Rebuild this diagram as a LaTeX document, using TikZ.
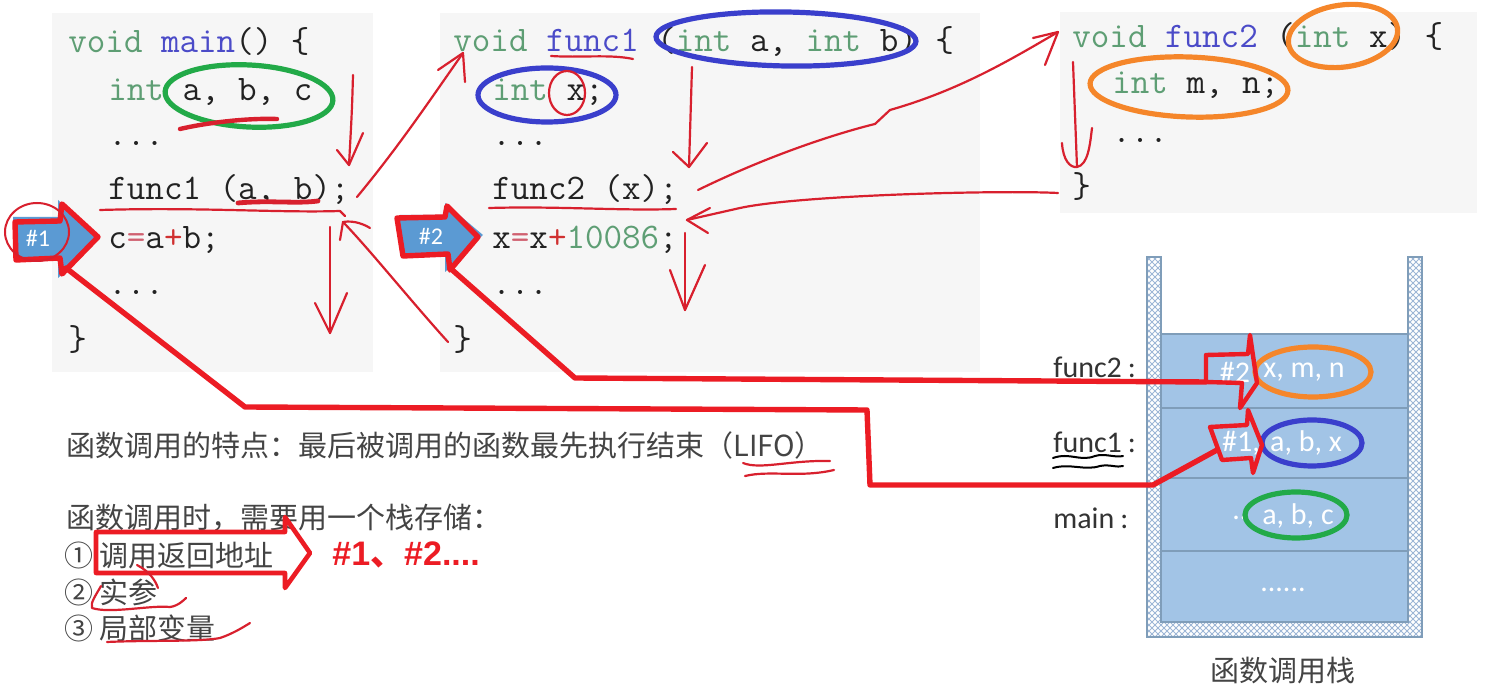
\documentclass[tikz,border=0pt]{standalone}
\usepackage{fontspec}
\setmainfont{Liberation Sans}
\newfontfamily\codefont{Latin Modern Mono}
\newfontfamily\cjk{Noto Sans CJK SC}
\newfontfamily\calfont{Carlito}
\usetikzlibrary{patterns}
\definecolor{kw}{HTML}{5E9E74}
\definecolor{fn}{HTML}{4B4BC8}
\definecolor{tx}{HTML}{222222}
\definecolor{eqc}{HTML}{D06070}
\definecolor{plc}{HTML}{D03030}
\definecolor{panel}{HTML}{F6F6F6}
\definecolor{penred}{HTML}{D8202E}
\definecolor{bigred}{HTML}{EC1C24}
\definecolor{grn}{HTML}{22AA48}
\definecolor{blu}{HTML}{3A3FCC}
\definecolor{org}{HTML}{F5862A}
\definecolor{arrowblue}{HTML}{5B9AD3}
\definecolor{stackfill}{HTML}{A2C4E6}
\definecolor{stackline}{HTML}{7F9DB9}
\definecolor{hatchc}{HTML}{9DB6D6}
\definecolor{labelc}{HTML}{333333}
\definecolor{cjkc}{HTML}{444444}
\begin{document}
\begin{tikzpicture}[x=0.5pt,y=-0.5pt,
  code/.style={anchor=west,inner sep=0pt,text=tx,font=\codefont\fontsize{18}{21}\selectfont},
  pen/.style={draw=penred,line width=1.1pt,line cap=round,line join=round},
  bigline/.style={draw=bigred,line width=2.7pt,line join=round,line cap=round},
  ring/.style={line width=2.6pt},
  stacktxt/.style={text=white,inner sep=0pt,font=\calfont\fontsize{15}{18}\selectfont},
  lbl/.style={text=labelc,anchor=west,inner sep=0pt,font=\calfont\fontsize{15}{18}\selectfont},
  cjktxt/.style={anchor=west,inner sep=0pt,text=cjkc,font=\cjk\fontsize{14.5}{17}\selectfont},
  tag/.style={text=white,inner sep=0pt,font=\calfont\fontsize{12}{14}\selectfont}]
\useasboundingbox (0,0) rectangle (1512,694);
\fill[white] (0,0) rectangle (1512,694);
% panels
\fill[panel] (52,13) rectangle (373,372);
\fill[panel] (440,13) rectangle (980,372);
\fill[panel] (1060,12) rectangle (1477,213);
% main code
\node[code] (m1) at (68,42) {{\color{kw}void} {\color{fn}main}() \{};
\node[code] (m2) at (108,92) {{\color{kw}int} a, b, c};
\node[code] (m3) at (108,143) {...};
\node[code] (m4) at (108,190) {func1 (a, b);};
\node[code] (m5) at (108,240) {c{\color{eqc}=}a{\color{plc}+}b;};
\node[code] (m6) at (108,292) {...};
\node[code] (m7) at (68,340) {\}};
% func1 code
\node[code] (f1) at (453,42) {{\color{kw}void} {\color{fn}func1} ({\color{kw}int} a, {\color{kw}int} b) \{};
\node[code] (f2) at (492,92) {{\color{kw}int} x;};
\node[code] (f3) at (492,143) {...};
\node[code] (f4) at (492,190) {func2 (x);};
\node[code] (f5) at (492,240) {x{\color{eqc}=}x{\color{plc}+}{\color{kw}10086};};
\node[code] (f6) at (492,292) {...};
\node[code] (f7) at (453,340) {\}};
% func2 code
\node[code] (g1) at (1072,37) {{\color{kw}void} {\color{fn}func2} ({\color{kw}int} x) \{};
\node[code] (g2) at (1112,85) {{\color{kw}int} m, n;};
\node[code] (g3) at (1112,140) {...};
\node[code] (g4) at (1072,187) {\}};

% blue block arrows #1 #2
\fill[arrowblue] (13,217) -- (58,217) -- (58,200) -- (100,237) -- (58,278) -- (58,257) -- (13,257) -- cycle;
\draw[bigline] (15,222) -- (60,221) -- (62,204) -- (98,237) -- (62,274) -- (60,258) -- (16,260) -- cycle;
\node[tag] (t1) at (38,238) {\#1};
\draw[penred,line width=1pt] (37,232) ellipse [x radius=16pt, y radius=14.5pt];
\fill[arrowblue] (400,215) -- (445,215) -- (445,203) -- (483,235) -- (445,272) -- (445,255) -- (400,255) -- cycle;
\draw[bigline] (397,218) -- (445,217) -- (447,206) -- (478,237) -- (450,270) -- (448,254) -- (403,256) -- cycle;
\node[tag] (t2) at (431,236) {\#2};

% stack
\fill[stackfill] (1161,334) rectangle (1408,622);
\foreach \yy in {334,408,478,551,622} \draw[stackline,line width=0.8pt] (1161,\yy) -- (1408,\yy);
\foreach \xa/\ya/\xb/\yb in {1147/257/1161/637, 1408/257/1422/637, 1161/622/1408/637} {
  \fill[white] (\xa,\ya) rectangle (\xb,\yb);
  \fill[pattern=north east lines,pattern color=hatchc] (\xa,\ya) rectangle (\xb,\yb);
  \fill[pattern=north west lines,pattern color=hatchc] (\xa,\ya) rectangle (\xb,\yb);
}
\draw[stackline,line width=0.8pt] (1147,257) -- (1147,637) -- (1422,637) -- (1422,257) -- (1408,257) -- (1408,622) -- (1161,622) -- (1161,257) -- cycle;
\node[stacktxt] (s2a) at (1235,372) {\#2};
\node[stacktxt] (s2b) at (1304,372) {x, m, n};
\node[stacktxt] (s1a) at (1241,443) {\#1,};
\node[stacktxt] (s1b) at (1306,443) {a, b, x};
\node[stacktxt] (s0a) at (1240,518) {..};
\node[stacktxt] (s0b) at (1298,516) {a, b, c};
\node[stacktxt] (s00) at (1283,590) {......};
\node[lbl] (l2) at (1053,367) {func2\hspace{3pt}:};
\node[lbl] (l1) at (1053,442) {func1\hspace{3pt}:};
\node[lbl] (l0) at (1053,518) {main\hspace{3pt}:};
\node[text=cjkc,inner sep=0pt,font=\cjk\fontsize{14.5}{17}\selectfont] (cap) at (1283,671) {函数调用栈};
\draw[black,line width=1pt,line cap=round] (1053,458) .. controls (1070,452) and (1080,462) .. (1095,456) .. controls (1105,453) and (1115,458) .. (1123,456);
\draw[black,line width=1pt,line cap=round] (1053,468) .. controls (1070,463) and (1085,471) .. (1100,466) .. controls (1110,464) and (1117,468) .. (1123,466);

% bottom text
\node[cjktxt] (b1) at (66,445) {函数调用的特点：最后被调用的函数最先执行结束（LIFO）};
\node[cjktxt] (b2) at (66,518) {函数调用时，需要用一个栈存储：};
\node[cjktxt] (b3) at (64,555) {①\hspace{3pt}调用返回地址};
\node[cjktxt] (b4) at (64,592) {②\hspace{3pt}实参};
\node[cjktxt] (b5) at (64,628) {③\hspace{3pt}局部变量};
\node[anchor=west,inner sep=0pt,text=bigred,font=\fontsize{17}{20}\selectfont\bfseries] (b6) at (332,555) {\#1{\cjk 、}\#2....};
\draw[bigline,line width=2.3pt] (96,532) -- (285,532) -- (285,517) -- (310,553) -- (285,588) -- (285,573) -- (96,573) -- cycle;
\draw[pen] (743,463) .. controls (760,470) and (790,460) .. (830,461);
\draw[pen] (745,476) .. controls (770,470) and (800,478) .. (834,470);
\draw[pen] (137,565) .. controls (150,572) and (155,580) .. (158,588);
\draw[pen] (101,586) .. controls (96,595) and (90,603) .. (92,608) .. controls (110,614) and (150,605) .. (170,607) .. controls (178,606) and (184,600) .. (186,598);
\draw[pen] (107,642) .. controls (150,640) and (200,642) .. (220,638) .. controls (232,634) and (242,628) .. (250,623);

% rings
\draw[ring,grn,rotate around={-3:(249,96)}] (249,96) ellipse [x radius=42pt, y radius=15.5pt];
\draw[ring,blu,rotate around={-1:(786,39)}] (786,39) ellipse [x radius=65pt, y radius=13.5pt];
\draw[ring,blu] (547,95) ellipse [x radius=34.5pt, y radius=13.5pt];
\draw[ring,org,rotate around={8:(1343,36)}] (1343,36) ellipse [x radius=27.5pt, y radius=15.5pt];
\draw[ring,org,rotate around={-2:(1189,87)}] (1189,87) ellipse [x radius=49.5pt, y radius=15pt];
\draw[ring,org] (1313,372) ellipse [x radius=29pt, y radius=12.5pt];
\draw[ring,blu] (1312,443) ellipse [x radius=25pt, y radius=11.5pt];
\draw[ring,grn] (1296,515) ellipse [x radius=25.5pt, y radius=11.5pt];
\draw[pen] (567,93) ellipse [x radius=9pt, y radius=11pt];

% underlines
\draw[pen] (100,210) .. controls (200,207) and (280,213) .. (340,211) -- (345,216);
\draw[pen,line width=2.4pt] (238,203) .. controls (270,200) and (295,204) .. (318,201);
\draw[pen,line width=2.2pt] (180,129) .. controls (210,122) and (250,118) .. (277,119);
\draw[pen] (551,56) .. controls (580,58) and (610,54) .. (633,59);
\draw[pen] (489,208) .. controls (560,206) and (620,211) .. (676,209);

% flow arrows
\coordinate (a1s) at (353,75); \coordinate (a1e) at (349,165);
\draw[pen] (a1s) .. controls (352,110) .. (a1e);
\draw[pen] (337,150) -- (a1e) -- (363,133);
\coordinate (a2s) at (330,227); \coordinate (a2e) at (330,333);
\draw[pen] (a2s) -- (a2e);
\draw[pen] (315,303) -- (a2e) -- (347,293);
\coordinate (c1s) at (357,197); \coordinate (c1e) at (463,53);
\draw[pen] (c1s) .. controls (400,145) and (430,100) .. (c1e);
\draw[pen] (438,70) -- (c1e) -- (465,82);
\coordinate (r1s) at (448,342); \coordinate (r1e) at (343,222);
\draw[pen] (r1s) .. controls (410,300) and (370,250) .. (r1e);
\draw[pen] (340,240) -- (r1e) .. controls (355,220) and (365,225) .. (370,228);
\coordinate (a3s) at (692,67); \coordinate (a3e) at (689,167);
\draw[pen] (a3s) -- (a3e);
\draw[pen] (673,152) -- (a3e) -- (707,143);
\coordinate (a4s) at (685,233); \coordinate (a4e) at (685,310);
\draw[pen] (a4s) -- (a4e);
\draw[pen] (670,270) -- (a4e) -- (705,265);
\coordinate (c2s) at (698,190); \coordinate (c2e) at (1058,32);
\draw[pen] (c2s) .. controls (780,150) and (850,130) .. (875,124) -- (890,110) .. controls (960,90) and (1010,60) .. (c2e);
\draw[pen] (1033,38) -- (c2e) -- (1045,65);
\coordinate (r2s) at (1058,193); \coordinate (r2e) at (687,220);
\draw[pen] (r2s) .. controls (1000,190) and (800,195) .. (740,208) -- (r2e);
\draw[pen] (710,208) -- (r2e) -- (708,233);
\coordinate (a5s) at (1073,62); \coordinate (a5e) at (1077,167);
\draw[pen] (a5s) -- (a5e);
\draw[pen] (1062,143) .. controls (1063,160) and (1070,168) .. (a5e) .. controls (1088,165) and (1090,145) .. (1092,128);

% big return lines
\coordinate (p1) at (66,268); \coordinate (p1b) at (245,407); \coordinate (p1c) at (867,410);
\coordinate (p1d) at (870,485); \coordinate (p1e) at (1153,485); \coordinate (p1f) at (1217,450);
\draw[bigline] (p1) -- (p1b) -- (p1c) -- (p1d) -- (p1e) -- (p1f);
\coordinate (p2) at (450,268); \coordinate (p2b) at (575,378); \coordinate (p2c) at (1206,382);
\draw[bigline] (p2) -- (p2b) -- (p2c);
% stack arrows
\draw[bigred,line width=2.2pt,line join=round] (p2c) -- (1206,355) -- (1248,354) -- (1250,335) -- (1257,383) -- (1240,408) -- (1242,383) -- cycle;
\draw[bigred,line width=2.2pt,line join=round] (1210,427) -- (1247,425) -- (1248,410) -- (1262,445) -- (1253,473) -- (1251,458) -- (1222,460) -- cycle;
\end{tikzpicture}
\end{document}
